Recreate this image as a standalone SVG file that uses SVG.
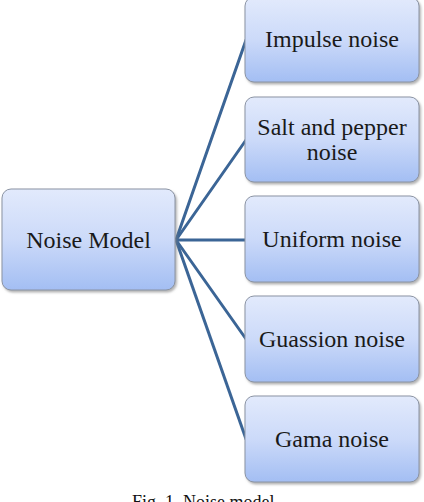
<svg xmlns="http://www.w3.org/2000/svg" width="424" height="502" viewBox="0 0 424 502">
  <defs>
    <linearGradient id="g" x1="0" y1="0" x2="0" y2="1">
      <stop offset="0" stop-color="#E2EAFC"/>
      <stop offset="0.5" stop-color="#CCDAF9"/>
      <stop offset="1" stop-color="#A3BEF3"/>
    </linearGradient>
    <filter id="sh" x="-10%" y="-10%" width="120%" height="120%">
      <feDropShadow dx="1.5" dy="2" stdDeviation="1" flood-color="#808080" flood-opacity="0.6"/>
    </filter>
  </defs>
  <style>
    .box { fill: url(#g); stroke: #8A93A3; stroke-width: 1; filter: url(#sh); }
    .t { font-family: "Liberation Serif", "Times New Roman", serif; font-size: 24px; fill: #1a1a1a; text-anchor: middle; }
    .c { stroke: #3B6596; stroke-width: 3; fill: none; stroke-linecap: round; }
    .cap { font-family: "Liberation Serif", "Times New Roman", serif; font-size: 18px; fill: #111; }
  </style>
  <rect width="424" height="502" fill="#ffffff"/>
  <g id="connectors">
    <line class="c" x1="176" y1="240" x2="246" y2="40"/>
    <line class="c" x1="176" y1="240" x2="246" y2="140"/>
    <line class="c" x1="176" y1="240" x2="246" y2="240"/>
    <line class="c" x1="176" y1="240" x2="246" y2="339"/>
    <line class="c" x1="176" y1="240" x2="246" y2="439"/>
  </g>
  <g id="root">
    <rect class="box" x="2" y="189" width="173" height="101" rx="9"/>
    <text class="t" x="88.5" y="248">Noise Model</text>
  </g>
  <g id="impulse">
    <rect class="box" x="245" y="-3" width="174" height="85" rx="9"/>
    <text class="t" x="332" y="47">Impulse noise</text>
  </g>
  <g id="salt">
    <rect class="box" x="245" y="97" width="174" height="85" rx="9"/>
    <text class="t" x="332" y="135">Salt and pepper</text>
    <text class="t" x="332" y="160">noise</text>
  </g>
  <g id="uniform">
    <rect class="box" x="245" y="196" width="174" height="86" rx="9"/>
    <text class="t" x="332" y="247">Uniform noise</text>
  </g>
  <g id="guassion">
    <rect class="box" x="245" y="296" width="174" height="86" rx="9"/>
    <text class="t" x="332" y="347">Guassion noise</text>
  </g>
  <g id="gama">
    <rect class="box" x="245" y="396" width="174" height="86" rx="9"/>
    <text class="t" x="332" y="447">Gama noise</text>
  </g>
  <text class="cap" x="132" y="508">Fig. 1. Noise model</text>
</svg>
